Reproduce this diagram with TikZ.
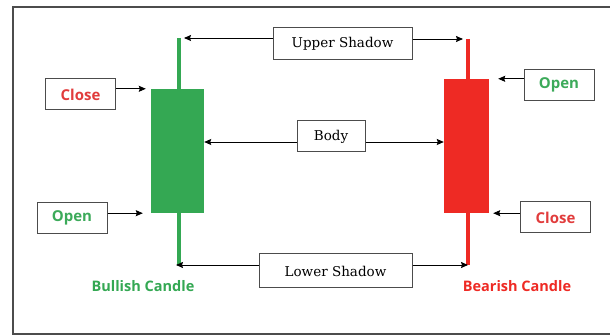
\documentclass[tikz,border=0pt]{standalone}
\usepackage{fontspec}
\setmainfont{DejaVu Serif}
\newfontfamily\tagfont{Open Sans}
\usetikzlibrary{shapes,arrows.meta,calc,positioning}
\definecolor{bullgreen}{RGB}{52,168,83}
\definecolor{bearred}{RGB}{238,42,36}
\definecolor{opengreen}{RGB}{60,170,90}
\definecolor{closered}{RGB}{225,60,60}

\begin{document}
\begin{tikzpicture}[%
    >={Stealth[length=7pt,width=6pt,inset=1pt]},
    x=1pt, y=-1pt,
    box/.style={draw=black!70, line width=1pt, rectangle, inner sep=0pt},
    tag/.style={box, minimum width=70pt, minimum height=31pt, font=\tagfont\bfseries\fontsize{15}{15}\selectfont},
    part/.style={box, font=\fontsize{13.5}{14}\selectfont},
    wick/.style={line width=3.5pt},
    point/.style={->, line width=0.9pt}
  ]
  \useasboundingbox (0,0) rectangle (610,336);
  \draw[black!70, line width=1.4pt] (13,7) rectangle (616,334);

  % candles
  \draw[wick, bullgreen] (179,38) coordinate (gtop) -- (179,265) coordinate (gbot);
  \node[fill=bullgreen, minimum width=53pt, minimum height=124pt, inner sep=0pt] (g) at (177.5,151) {};
  \draw[wick, bearred] (468,39) coordinate (rtop) -- (468,265) coordinate (rbot);
  \node[fill=bearred, minimum width=45pt, minimum height=134pt, inner sep=0pt] (r) at (466.5,146) {};

  \node[text=bullgreen, font=\tagfont\bfseries\fontsize{14.5}{14.5}\selectfont] (gname) at (143,286) {Bullish Candle};
  \node[text=bearred, font=\tagfont\bfseries\fontsize{14.5}{14.5}\selectfont] (rname) at (517,286) {Bearish Candle};

  % labels
  \node[part, minimum width=139pt, minimum height=32pt] (upper) at (342.5,44) {Upper Shadow};
  \node[part, minimum width=68pt, minimum height=31pt] (body) at (331,136.5) {Body};
  \node[part, minimum width=153pt, minimum height=34pt] (lower) at (335.5,271) {Lower Shadow};

  \node[tag, text=closered] (gclose) at (80.5,94.5) {Close};
  \node[tag, text=opengreen] (gopen) at (72,218) {Open};
  \node[tag, text=opengreen] (ropen) at (559,85) {Open};
  \node[tag, text=closered] (rclose) at (555.5,217.5) {Close};

  \coordinate (bodyline) at (0,142);

  \draw[point] (upper.west |- gtop) -- ($(gtop)+(5,0)$);
  \draw[point] (upper.east |- rtop) -- ($(rtop)+(-5,0)$);
  \draw[point] (body.west |- bodyline) -- (g.east |- bodyline);
  \draw[point] (body.east |- bodyline) -- (r.west |- bodyline);
  \draw[point] (lower.west |- gbot) -- ($(gbot)+(-3,0)$);
  \draw[point] (lower.east |- rbot) -- (rbot);

  \draw[point] (gclose.east |- g.north) -- ($(g.north west)+(-5,0)$);
  \draw[point] (gopen.east |- g.south) -- ($(g.south west)+(-8,0)$);
  \draw[point] (ropen.west |- r.north) -- ($(r.north east)+(9,0)$);
  \draw[point] (rclose.west |- r.south) -- ($(r.south east)+(4,0)$);
\end{tikzpicture}
\end{document}
